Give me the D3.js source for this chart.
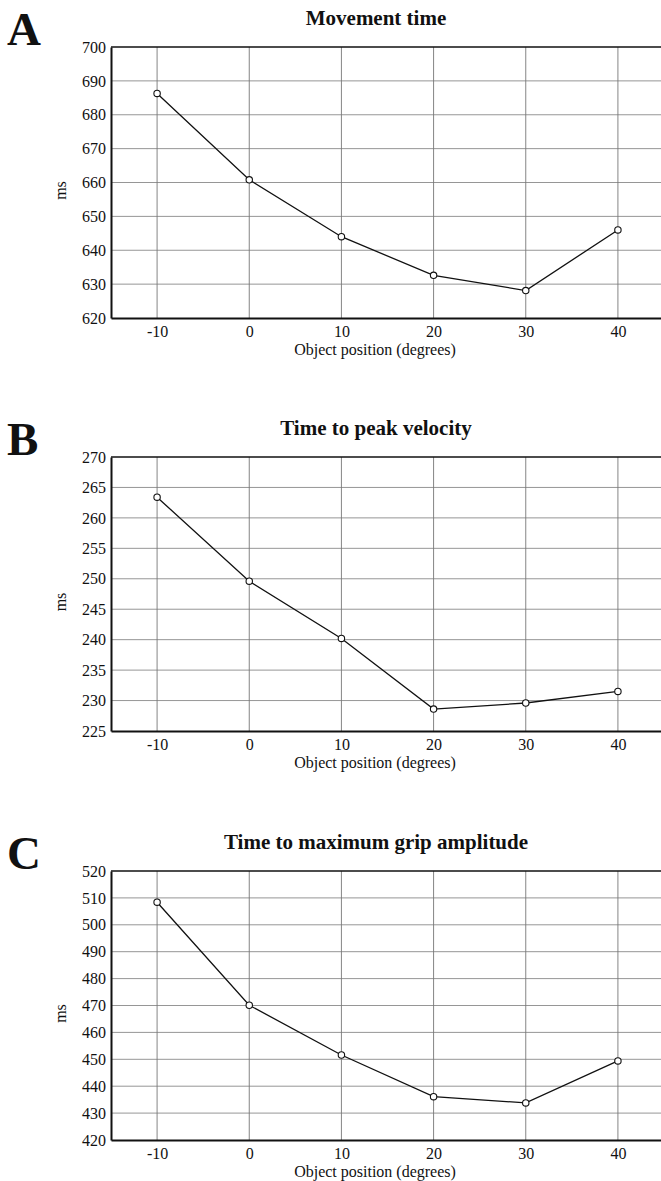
<!DOCTYPE html>
<html>
<head>
<meta charset="utf-8">
<script src="https://cdn.jsdelivr.net/npm/d3@7"></script>
<style>
  body { margin: 0; background: #fff; }
  svg text { font-family: "Liberation Serif", "Times New Roman", serif; fill: #111; }
</style>
</head>
<body>
<script>
// values
var positions = [-10, 0, 10, 20, 30, 40];
var movementTime = [686.3, 660.8, 644.0, 632.6, 628.1, 646.0];
var peakVelocityTime = [263.4, 249.6, 240.2, 228.6, 229.6, 231.5];
var maxGripTime = [508.4, 470.1, 451.6, 436.1, 433.8, 449.4];

var panelLetters = ["A", "B", "C"];
var panelTitles = ["Movement time", "Time to peak velocity", "Time to maximum grip amplitude"];
var ticksA = [620, 630, 640, 650, 660, 670, 680, 690, 700];
var ticksB = [225, 230, 235, 240, 245, 250, 255, 260, 265, 270];
var ticksC = [420, 430, 440, 450, 460, 470, 480, 490, 500, 510, 520];
var xTicks = [-10, 0, 10, 20, 30, 40];

var W = 661, H = 1181;
var svg = d3.select("body").append("svg")
  .attr("width", W).attr("height", H);

var panels = [
  { values: movementTime, ticks: ticksA, top: 47, bottom: 318 },
  { values: peakVelocityTime, ticks: ticksB, top: 457, bottom: 731 },
  { values: maxGripTime, ticks: ticksC, top: 871, bottom: 1140 }
];

var left = 111, right = 664;

panels.forEach(function (p, i) {
  var g = svg.append("g");
  var x = d3.scaleLinear().domain([-15, 45]).range([left, right]);
  var y = d3.scaleLinear().domain(d3.extent(p.ticks)).range([p.bottom, p.top]);

  // grid
  g.selectAll(".hg").data(p.ticks.slice(1, -1)).enter().append("line")
    .attr("x1", left).attr("x2", right)
    .attr("y1", function (d) { return y(d); }).attr("y2", function (d) { return y(d); })
    .attr("stroke", "#8a8a8a").attr("stroke-width", 0.9);
  g.selectAll(".vg").data(xTicks).enter().append("line")
    .attr("y1", p.top).attr("y2", p.bottom)
    .attr("x1", function (d) { return x(d); }).attr("x2", function (d) { return x(d); })
    .attr("stroke", "#777").attr("stroke-width", 0.9);

  // frame
  g.append("line").attr("x1", left).attr("x2", right).attr("y1", p.top).attr("y2", p.top)
    .attr("stroke", "#111").attr("stroke-width", 1.4);

  // axes
  var ya = d3.axisLeft(y).tickValues(p.ticks).tickSize(0).tickPadding(5).tickFormat(String);
  var yg = g.append("g").attr("transform", "translate(" + left + ",0)").call(ya);
  yg.select(".domain").attr("stroke", "#111").attr("stroke-width", 2);
  yg.selectAll("text").attr("font-size", 16).attr("font-family", "Liberation Serif");

  var xa = d3.axisBottom(x).tickValues(xTicks).tickSize(0).tickPadding(8).tickFormat(String);
  var xg = g.append("g").attr("transform", "translate(0," + p.bottom + ")").call(xa);
  xg.select(".domain").attr("stroke", "#111").attr("stroke-width", 2);
  xg.selectAll("text").attr("font-size", 16).attr("font-family", "Liberation Serif");

  // series
  var line = d3.line()
    .x(function (d, j) { return x(positions[j]); })
    .y(function (d) { return y(d); });
  g.append("path").datum(p.values).attr("d", line)
    .attr("fill", "none").attr("stroke", "#111").attr("stroke-width", 1.3);
  g.selectAll(".pt").data(p.values).enter().append("circle")
    .attr("cx", function (d, j) { return x(positions[j]); })
    .attr("cy", function (d) { return y(d); })
    .attr("r", 3.2).attr("fill", "#fff").attr("stroke", "#111").attr("stroke-width", 1.1);

  // labels
  g.append("text").attr("x", 376).attr("y", p.top - 22)
    .attr("text-anchor", "middle").attr("font-size", 21).attr("font-weight", "bold")
    .text(panelTitles[i]);
  g.append("text").attr("x", 7).attr("y", p.top - 2)
    .attr("font-size", 47).attr("font-weight", "bold")
    .text(panelLetters[i]);
  g.append("text").attr("x", 375).attr("y", p.bottom + 37)
    .attr("text-anchor", "middle").attr("font-size", 16)
    .text("Object position (degrees)");
  g.append("text")
    .attr("transform", "translate(66," + ((p.top + p.bottom) / 2 + 8) + ") rotate(-90)")
    .attr("text-anchor", "middle").attr("font-size", 16)
    .text("ms");
});
</script>
</body>
</html>
